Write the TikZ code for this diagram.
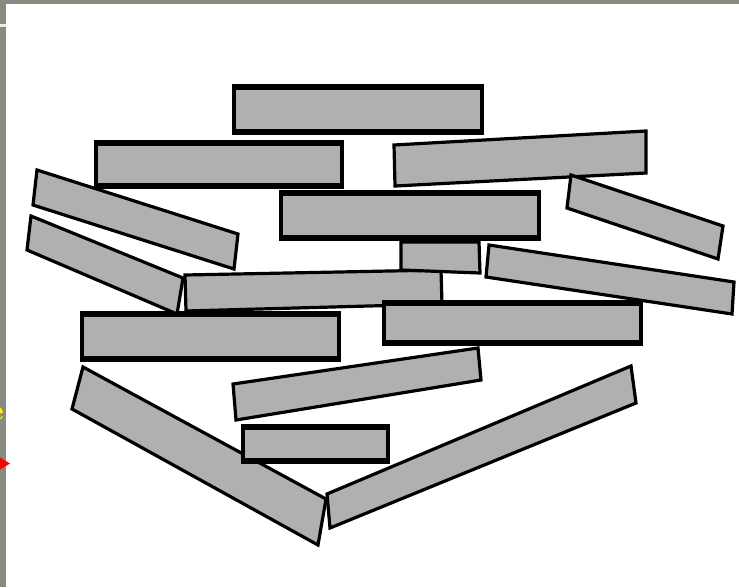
\documentclass[tikz,border=0pt]{standalone}
\definecolor{plankgrey}{RGB}{176,176,176}
\definecolor{slidegrey}{RGB}{136,140,128}
\tikzset{
  plank/.style={fill=plankgrey, draw=black, line width=3.2pt, line join=miter},
  edgethick/.style={draw=black, line width=6pt, line cap=butt}
}
\newcommand\hplank[4]{%
  \draw[plank] (#1,#2) rectangle (#3,#4);
  \draw[edgethick] (#1-1.6,#2) -- (#3+1.6,#2);
  \draw[edgethick] (#1-1.6,#4) -- (#3+1.6,#4);
}
\begin{document}
\begin{tikzpicture}[x=1pt,y=-1pt]
\useasboundingbox (0,0) rectangle (739,587);
\begin{scope}
\clip (0,0) rectangle (739,587);
% slide frame
\fill[slidegrey] (0,0) rectangle (739,587);
\fill[white] (6,4) rectangle (739,587);
\fill[white!85!slidegrey] (0,24) rectangle (6,26.5);
\node[text=yellow, font=\fontsize{30}{30}\selectfont\bfseries, anchor=east, inner sep=0pt] (eletter) at (4,414) {e};
\fill[red] (0,457.5) -- (10,463.5) -- (0,469.5) -- cycle;

% planks
\hplank{234}{87}{482}{132}
\hplank{96}{143}{342}{186}
\draw[plank] (394,145) -- (646,131) -- (646,173) -- (395,186) -- cycle;
\draw[plank] (571,175) -- (723,226) -- (718,259) -- (567,208) -- cycle;
\draw[plank] (37,170) -- (238,234) -- (234,269) -- (33,205) -- cycle;
\hplank{281}{193}{539}{238}
\draw[plank] (185,275) -- (441,270) -- (442,304) -- (186,311) -- cycle;
\draw[plank] (401,242) -- (479,242) -- (480,273) -- (401,270) -- cycle;
\hplank{82}{314}{339}{359}
\draw[plank] (31,216) -- (183,278) -- (177,314) -- (27,250) -- cycle;
\hplank{384}{303}{641}{343}
\draw[plank] (489,245) -- (734,282) -- (732,314) -- (486,277) -- cycle;
\draw[plank] (233,384) -- (478,348) -- (481,380) -- (236,420) -- cycle;
\draw[plank] (83,367) -- (326,499) -- (318,545) -- (72,409) -- cycle;
\hplank{243}{427}{388}{461}
\draw[plank] (327,494) -- (631,366) -- (636,403) -- (330,528) -- cycle;
\end{scope}
\end{tikzpicture}
\end{document}
